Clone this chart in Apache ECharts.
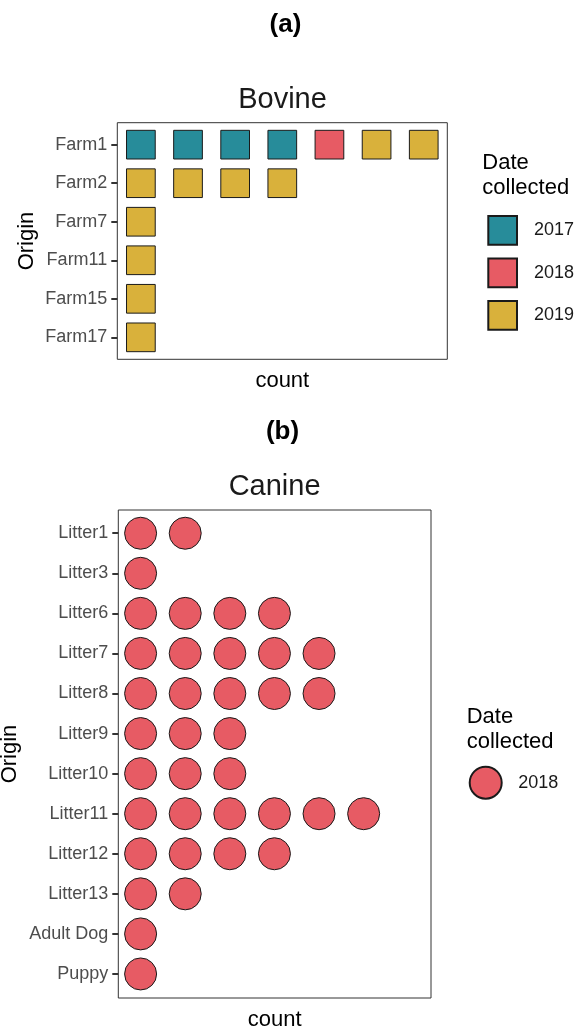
<!DOCTYPE html>
<html>
<head>
<meta charset="utf-8">
<script src="https://cdn.jsdelivr.net/npm/echarts@6/dist/echarts.min.js"></script>
<style>
  html, body { margin: 0; padding: 0; background: #fff; }
  #chart { width: 581px; height: 1029px; }
</style>
</head>
<body>
<div id="chart"></div>
<script>
// ---- Data ----
const bovineOrigins = ['Farm1', 'Farm2', 'Farm7', 'Farm11', 'Farm15', 'Farm17'];
const bovineYears = ['2017', '2018', '2019'];
const bovine2017 = [4, 0, 0, 0, 0, 0];
const bovine2018 = [1, 0, 0, 0, 0, 0];
const bovine2019 = [2, 4, 1, 1, 1, 1];

const canineOrigins = ['Litter1', 'Litter3', 'Litter6', 'Litter7', 'Litter8', 'Litter9',
  'Litter10', 'Litter11', 'Litter12', 'Litter13', 'Adult Dog', 'Puppy'];
const canineYears = ['2018'];
const canine2018 = [2, 1, 4, 5, 5, 3, 3, 6, 4, 2, 1, 1];

const yearColors = { '2017': '#278C9A', '2018': '#E75B64', '2019': '#D9B13B' };

// ---- Build dot positions (stacked along count) ----
function stackDots(countsByYear) {
  const n = countsByYear[0].length;
  const offset = new Array(n).fill(0);
  return countsByYear.map(counts => {
    const pts = [];
    counts.forEach((c, i) => {
      for (let k = 1; k <= c; k++) pts.push([offset[i] + k, i]);
      offset[i] += c;
    });
    return pts;
  });
}
const bovinePts = stackDots([bovine2017, bovine2018, bovine2019]);
const caninePts = stackDots([canine2018]);

const FONT = 'Liberation Sans, Arial, Helvetica, sans-serif';
const axisLabelColor = '#4D4D4D';
const frameColor = '#333333';

function yAxisFor(gridIndex, names, min, max, nameGap) {
  const idx = names.map((_, i) => i);
  return {
    gridIndex, type: 'value', inverse: true, min, max,
    name: 'Origin', nameLocation: 'middle', nameGap, nameMoveOverlap: false,
    nameTextStyle: { fontFamily: FONT, fontSize: 22, color: '#000' },
    axisLine: { show: false },
    splitLine: { show: false },
    axisTick: { show: true, customValues: idx, length: 6, inside: false,
      lineStyle: { color: frameColor, width: 2 } },
    axisLabel: { show: true, customValues: idx, margin: 10,
      fontFamily: FONT, fontSize: 18, color: axisLabelColor,
      formatter: v => names[Math.round(v)] }
  };
}
function xAxisFor(gridIndex, min, max, nameGap) {
  return {
    gridIndex, type: 'value', min, max,
    name: 'count', nameLocation: 'middle', nameGap, nameMoveOverlap: false,
    nameTextStyle: { fontFamily: FONT, fontSize: 22, color: '#000' },
    axisLine: { show: false }, axisTick: { show: false },
    axisLabel: { show: false }, splitLine: { show: false }
  };
}

const series = [];
bovineYears.forEach((y, j) => {
  series.push({
    name: y, type: 'scatter', xAxisIndex: 0, yAxisIndex: 0,
    symbol: 'rect', symbolSize: 28.7, data: bovinePts[j],
    itemStyle: { color: yearColors[y], borderColor: '#1a1a1a', borderWidth: 1, opacity: 1 },
    emphasis: { disabled: true }, z: 3
  });
});
canineYears.forEach((y, j) => {
  series.push({
    name: 'Canine ' + y, type: 'scatter', xAxisIndex: 1, yAxisIndex: 1,
    symbol: 'circle', symbolSize: 32, data: caninePts[j],
    itemStyle: { color: yearColors[y], borderColor: '#1a1a1a', borderWidth: 1, opacity: 1 },
    emphasis: { disabled: true }, z: 3
  });
});

const chart = echarts.init(document.getElementById('chart'), null, { renderer: 'canvas' });
chart.setOption({
  animation: false,
  backgroundColor: '#fff',
  textStyle: { fontFamily: FONT },
  grid: [
    { left: 117.3, top: 122.7, width: 330, height: 236.6, show: true, containLabel: false,
      outerBoundsMode: 'none',
      borderColor: frameColor, borderWidth: 1, backgroundColor: 'transparent' },
    { left: 118.3, top: 510, width: 312.7, height: 488, show: true, containLabel: false,
      outerBoundsMode: 'none',
      borderColor: frameColor, borderWidth: 1, backgroundColor: 'transparent' }
  ],
  xAxis: [xAxisFor(0, 0.5, 7.5, 11), xAxisFor(1, 0.5, 7.51, 11)],
  yAxis: [yAxisFor(0, bovineOrigins, -0.57, 5.57, 79), yAxisFor(1, canineOrigins, -0.58, 11.6, 97)],
  legend: [
    { orient: 'vertical', left: 487.3, top: 215, itemWidth: 28.7, itemHeight: 28.7, itemGap: 11.8,
      padding: 0, data: bovineYears, selectedMode: false,
      textStyle: { fontFamily: FONT, fontSize: 18, color: '#1a1a1a', padding: [0, 0, 0, 12] } },
    { orient: 'vertical', left: 468.7, top: 765.7, itemWidth: 32, itemHeight: 32,
      padding: 0, data: canineYears.map(y => 'Canine ' + y), selectedMode: false,
      formatter: name => name.replace('Canine ', ''),
      textStyle: { fontFamily: FONT, fontSize: 18, color: '#1a1a1a', padding: [0, 0, 0, 11.6] } }
  ],
  graphic: [
    { type: 'text', x: 285.5, y: 25, style: { text: '(a)', font: 'bold 26px ' + FONT, fill: '#000',
      textAlign: 'center', textVerticalAlign: 'middle', align: 'center', verticalAlign: 'middle' } },
    { type: 'text', x: 282.5, y: 99.5, style: { text: 'Bovine', font: '29px ' + FONT, fill: '#1a1a1a',
      textAlign: 'center', textVerticalAlign: 'middle', align: 'center', verticalAlign: 'middle' } },
    { type: 'text', x: 282.5, y: 432, style: { text: '(b)', font: 'bold 26px ' + FONT, fill: '#000',
      textAlign: 'center', textVerticalAlign: 'middle', align: 'center', verticalAlign: 'middle' } },
    { type: 'text', x: 274.6, y: 487, style: { text: 'Canine', font: '29px ' + FONT, fill: '#1a1a1a',
      textAlign: 'center', textVerticalAlign: 'middle', align: 'center', verticalAlign: 'middle' } },
    { type: 'text', x: 482.3, y: 150, style: { text: 'Date\ncollected', font: '22px ' + FONT, fill: '#000',
      lineHeight: 25, textAlign: 'left', textVerticalAlign: 'top', align: 'left', verticalAlign: 'top' } },
    { type: 'text', x: 466.7, y: 704, style: { text: 'Date\ncollected', font: '22px ' + FONT, fill: '#000',
      lineHeight: 25, textAlign: 'left', textVerticalAlign: 'top', align: 'left', verticalAlign: 'top' } }
  ],
  series
});
</script>
</body>
</html>
